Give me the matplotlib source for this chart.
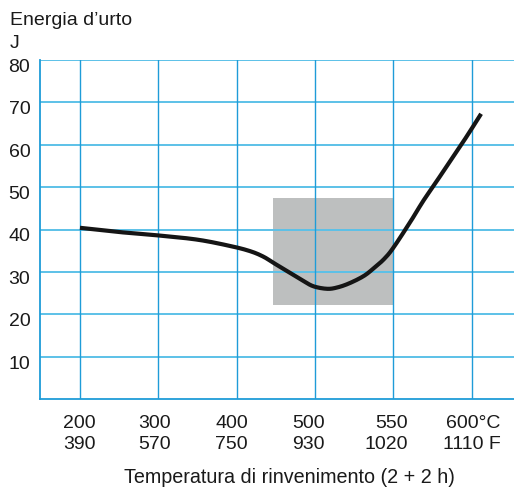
import matplotlib

matplotlib.use("Agg")
import matplotlib.pyplot as plt
import matplotlib.transforms as mtransforms
import numpy as np

plt.rcParams["font.family"] = ["Liberation Sans", "DejaVu Sans"]

# Tempering temperature axis: °C ticks with their °F equivalents
temp_c = [200, 300, 400, 500, 550, 600]
temp_f = ["390", "570", "750", "930", "1020", "1110 F"]
energy_ticks = [10, 20, 30, 40, 50, 60, 70, 80]

# Impact energy curve (J) against tempering temperature (°C)
curve_temp = [200, 250, 300, 350, 392, 417, 434, 449, 469, 484, 498, 508,
              515, 522.5, 531, 537, 544, 550, 561, 569, 577.5, 586.5, 596, 606]
curve_energy = [40.4, 39.4, 38.6, 37.6, 36.1, 34.9, 33.6, 31.9, 29.7, 28.0,
                26.6, 26.0, 26.4, 27.4, 29.0, 30.7, 33.0, 35.7, 41.9, 46.7,
                51.3, 56.3, 61.5, 67.3]

# Scatter band
band_temp = [447, 550]
band_low, band_high = 22.2, 47.5


def to_pos(t):
    # 200-500 °C spaced at 100 per grid step, 500-600 °C at 50 per step
    t = np.asarray(t, dtype=float)
    return np.where(t <= 500, (t - 200) / 100, 3 + (t - 500) / 50)


def from_pos(p):
    p = np.asarray(p, dtype=float)
    return np.where(p <= 3, 200 + 100 * p, 500 + 50 * (p - 3))


def smooth(x, y, n=20):
    """Catmull-Rom spline through the points, for a rounded stroke."""
    pts = np.column_stack([x, y])
    pts = np.vstack([2 * pts[0] - pts[1], pts, 2 * pts[-1] - pts[-2]])
    s = np.linspace(0, 1, n, endpoint=False)[:, None]
    out = []
    for i in range(1, len(pts) - 2):
        p0, p1, p2, p3 = pts[i - 1], pts[i], pts[i + 1], pts[i + 2]
        out.append(0.5 * (2 * p1 + (p2 - p0) * s
                          + (2 * p0 - 5 * p1 + 4 * p2 - p3) * s ** 2
                          + (3 * p1 - p0 - 3 * p2 + p3) * s ** 3))
    out.append(pts[-2][None, :])
    out = np.vstack(out)
    return out[:, 0], out[:, 1]


W, H = 514, 489
fig = plt.figure(figsize=(W / 100, H / 100), dpi=100)
ax = fig.add_axes([40 / W, 1 - 400 / H, 1 - 40 / W, (400 - 61) / H])
ax.set_xscale("function", functions=(to_pos, from_pos))
ax.set_xlim(from_pos(-0.51), from_pos(5.54))
ax.set_ylim(0, 80)

ax.fill_between(band_temp, band_low, band_high, color="#bdbfbf", lw=0, zorder=1)

for y in energy_ticks:
    ax.axhline(y, color="#5cc1e8", lw=1.4, zorder=2)
for t in temp_c:
    ax.axvline(t, color="#1f9cd8", lw=1.0, zorder=2)

sx, sy = smooth(to_pos(curve_temp), curve_energy)
ax.plot(from_pos(sx), sy, color="#151515", lw=3.0,
        solid_capstyle="butt", solid_joinstyle="round", zorder=3)

for side in ("top", "right"):
    ax.spines[side].set_visible(False)
for side in ("left", "bottom"):
    ax.spines[side].set_color("#1f9cd8")
    ax.spines[side].set_linewidth(1.3)

ax.set_yticks(energy_ticks)
ax.set_yticklabels([str(v) for v in energy_ticks], va="top")
ax.set_xticks(temp_c)
labels_c = [str(t) for t in temp_c]
labels_c[-1] = "600°C"
ax.set_xticklabels([f"{c}\n{f}" for c, f in zip(labels_c, temp_f)],
                   multialignment="right", linespacing=1.25)
ax.xaxis.set_minor_locator(matplotlib.ticker.NullLocator())
ax.tick_params(axis="both", length=0, labelsize=14, colors="#1a1a1a")
ax.tick_params(axis="y", pad=7)
ax.tick_params(axis="x", pad=11)

# nudge the y labels up a touch so the digits hang from their gridline
for lbl in ax.get_yticklabels():
    lbl.set_transform(lbl.get_transform()
                      + mtransforms.ScaledTranslation(0, 2 / 100, fig.dpi_scale_trans))
# the temperature labels sit slightly left of their gridlines
shifts = [-1, -3.5, -5, -6.5, -7.5, 0]
for lbl, dx in zip(ax.get_xticklabels(), shifts):
    lbl.set_transform(lbl.get_transform()
                      + mtransforms.ScaledTranslation(dx / 100, 0, fig.dpi_scale_trans))

fig.text(10 / W, 1 - 25 / H, "Energia d’urto", fontsize=14,
         color="#1a1a1a", va="baseline")
fig.text(10 / W, 1 - 48 / H, "J", fontsize=14, color="#1a1a1a", va="baseline")
fig.text(289.5 / W, 1 - 483 / H, "Temperatura di rinvenimento (2 + 2 h)",
         fontsize=14.2, color="#1a1a1a", ha="center", va="baseline")

fig.savefig("out.png", dpi=100)
